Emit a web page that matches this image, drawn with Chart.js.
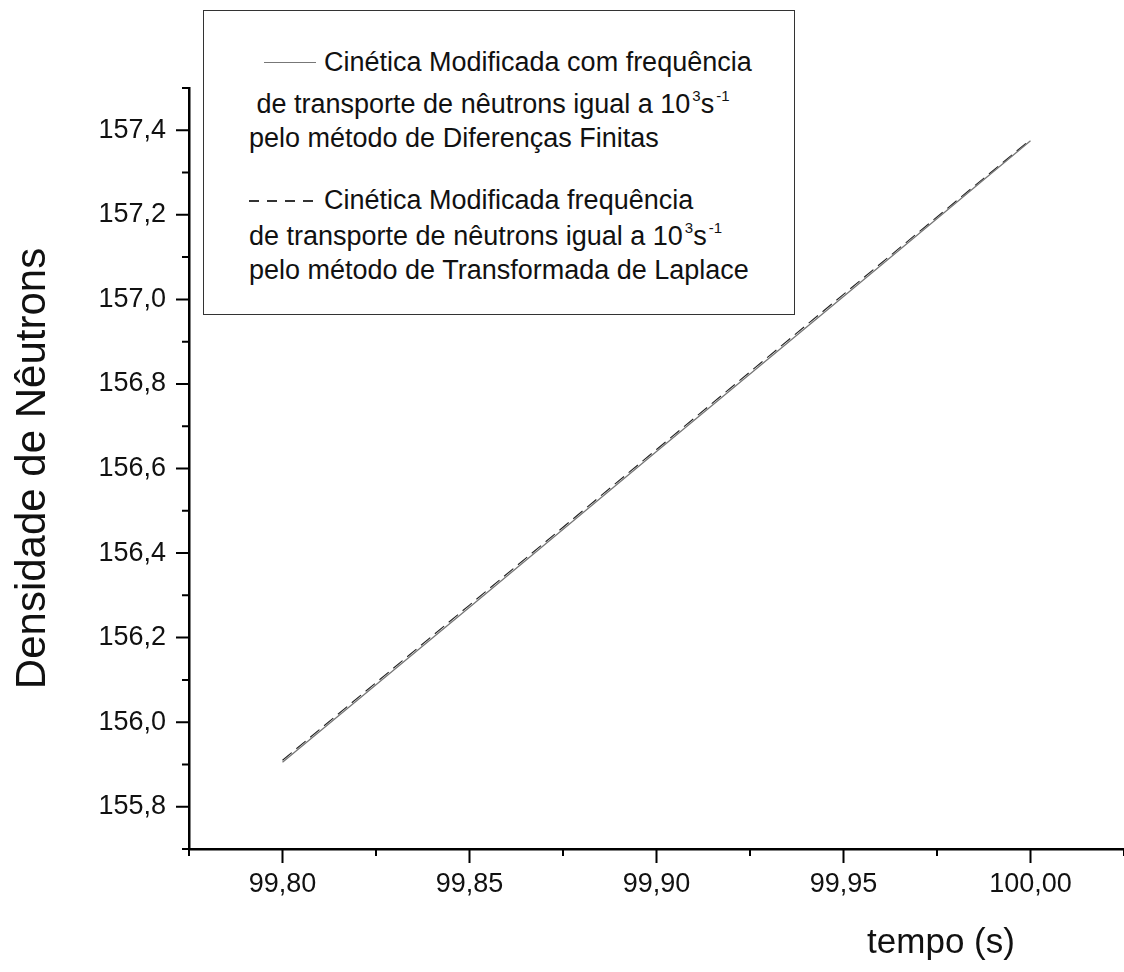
<!DOCTYPE html>
<html>
<head>
<meta charset="utf-8">
<script src="https://cdn.jsdelivr.net/npm/chart.js@4.4.1/dist/chart.umd.min.js"></script>
<style>
  html, body { margin: 0; padding: 0; background: #fff; }
  #wrap { position: relative; width: 1124px; height: 972px; overflow: hidden; }
  #c { position: absolute; left: 0; top: 0; }
  #legend { position: absolute; left: 203px; top: 10px; width: 590px; height: 303px;
            border: 1.5px solid #333; background: #fff; box-sizing: content-box;
            font-family: "Liberation Sans", Arial, sans-serif; font-size: 27px; color: #111; }
  .ln { position: absolute; white-space: pre; line-height: 27px; }
  .sup { font-size: 15px; position: relative; top: -12px; margin-left: 2px; }
  .smp { position: absolute; }
</style>
</head>
<body>
<div id="wrap">
  <canvas id="c" width="1124" height="972"></canvas>
  <div id="legend">
    <div class="smp" style="left:60px; top:51px; width:52px; height:1.3px; background:#777;"></div>
    <div class="ln" style="left:120px; top:38px;">Cinética Modificada com frequência</div>
    <div class="ln" style="left:45px; top:80px;"> de transporte de nêutrons igual a 10<span class="sup">3</span>s<span class="sup">-1</span></div>
    <div class="ln" style="left:45px; top:114px;">pelo método de Diferenças Finitas</div>
    <div class="smp" style="left:45px; top:189px; width:68px; height:1.5px; background:repeating-linear-gradient(to right, #333 0, #333 10px, transparent 10px, transparent 18px);"></div>
    <div class="ln" style="left:120px; top:176px;">Cinética Modificada frequência</div>
    <div class="ln" style="left:45px; top:212px;">de transporte de nêutrons igual a 10<span class="sup">3</span>s<span class="sup">-1</span></div>
    <div class="ln" style="left:45px; top:246px;">pelo método de Transformada de Laplace</div>
  </div>
</div>
<script>
// ---- data ----
const times = [99.80, 99.85, 99.90, 99.95, 100.00];
const densityFiniteDiff = [155.905, 156.272, 156.640, 157.007, 157.375];
const densityLaplace = [155.910, 156.277, 156.645, 157.012, 157.378];

const xMajorTicks = [99.80, 99.85, 99.90, 99.95, 100.00];
const xMinorTicks = [99.775, 99.825, 99.875, 99.925, 99.975, 100.025];
const yMajorTicks = [155.8, 156.0, 156.2, 156.4, 156.6, 156.8, 157.0, 157.2, 157.4];
const yMinorTicks = [155.7, 155.9, 156.1, 156.3, 156.5, 156.7, 156.9, 157.1, 157.3, 157.5];

const xTitle = "tempo (s)";
const yTitle = "Densidade de Nêutrons";

const FONT = '"Liberation Sans", Arial, sans-serif';

const tickPlugin = {
  id: 'ticks',
  afterDraw(chart) {
    const ctx = chart.ctx;
    const xs = chart.scales.x, ys = chart.scales.y;
    const area = chart.chartArea;
    ctx.save();
    ctx.strokeStyle = '#000';
    ctx.lineWidth = 2;
    ctx.beginPath();
    xMajorTicks.forEach(v => { const p = xs.getPixelForValue(v); ctx.moveTo(p, area.bottom); ctx.lineTo(p, area.bottom + 14); });
    xMinorTicks.forEach(v => { const p = xs.getPixelForValue(v); ctx.moveTo(p, area.bottom); ctx.lineTo(p, area.bottom + 7); });
    yMajorTicks.forEach(v => { const p = ys.getPixelForValue(v); ctx.moveTo(area.left, p); ctx.lineTo(area.left - 13, p); });
    yMinorTicks.forEach(v => { const p = ys.getPixelForValue(v); ctx.moveTo(area.left, p); ctx.lineTo(area.left - 7, p); });
    ctx.stroke();
    ctx.fillStyle = '#111';
    ctx.font = '35px ' + FONT;
    ctx.textAlign = 'center';
    ctx.textBaseline = 'alphabetic';
    ctx.fillText(xTitle, 941, 953);
    ctx.restore();
  }
};

new Chart(document.getElementById('c'), {
  type: 'line',
  data: {
    datasets: [
      {
        label: 'Diferenças Finitas',
        data: times.map((t, i) => ({ x: t, y: densityFiniteDiff[i] })),
        borderColor: '#777', borderWidth: 1.3, pointRadius: 0, tension: 0, fill: false
      },
      {
        label: 'Transformada de Laplace',
        data: times.map((t, i) => ({ x: t, y: densityLaplace[i] })),
        borderColor: '#222', borderWidth: 1.1, borderDash: [12, 6], pointRadius: 0, tension: 0, fill: false
      }
    ]
  },
  options: {
    responsive: false,
    animation: false,
    devicePixelRatio: 1,
    layout: { padding: { top: 88, right: 0, left: 0, bottom: 0 } },
    plugins: { legend: { display: false }, tooltip: { enabled: false } },
    scales: {
      x: {
        type: 'linear', min: 99.775, max: 100.025,
        afterBuildTicks: s => { s.ticks = xMajorTicks.map(v => ({ value: v })); },
        afterFit: s => { s.height = 123; },
        grid: { display: false, drawTicks: false },
        border: { display: true, color: '#000', width: 2.5 },
        ticks: {
          color: '#111', font: { family: FONT, size: 27 }, padding: 19, maxRotation: 0, autoSkip: false,
          callback: v => Number(v).toFixed(2).replace('.', ',')
        }
      },
      y: {
        type: 'linear', min: 155.7, max: 157.5,
        afterBuildTicks: s => { s.ticks = yMajorTicks.map(v => ({ value: v })); },
        afterFit: s => { s.width = 189; },
        grid: { display: false, drawTicks: false },
        border: { display: true, color: '#000', width: 2.5 },
        title: { display: true, text: yTitle, color: '#111', font: { family: FONT, size: 42 }, padding: { top: 8, bottom: 0 } },
        ticks: {
          color: '#111', font: { family: FONT, size: 27 }, padding: 23, autoSkip: false,
          callback: v => Number(v).toFixed(1).replace('.', ',')
        }
      }
    }
  },
  plugins: [tickPlugin]
});
</script>
</body>
</html>
